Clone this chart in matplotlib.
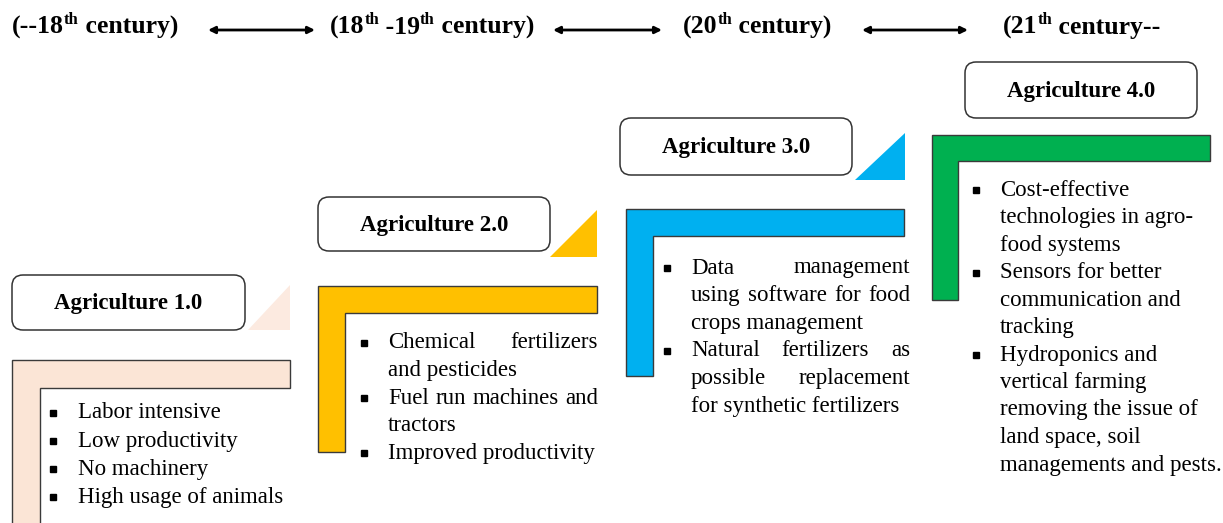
import matplotlib
matplotlib.use('Agg')
import matplotlib.pyplot as plt
from matplotlib.patches import Polygon, FancyBboxPatch

# stage titles and colours
stages = ['Agriculture 1.0', 'Agriculture 2.0', 'Agriculture 3.0', 'Agriculture 4.0']
colors = ['#FBE5D6', '#FFC000', '#00B0F0', '#00B050']

# era headers as (text, superscript?) runs
eras = [
    [('(--18', 0), ('th', 1), (' century)', 0)],
    [('(18', 0), ('th', 1), (' -19', 0), ('th', 1), (' century)', 0)],
    [('(20', 0), ('th', 1), (' century)', 0)],
    [('(21', 0), ('th', 1), (' century--', 0)],
]

# bullet points, each one split into its printed lines
bullets = [
    [['Labor intensive'], ['Low productivity'], ['No machinery'], ['High usage of animals']],
    [['Chemical fertilizers', 'and pesticides'],
     ['Fuel run machines and', 'tractors'],
     ['Improved productivity']],
    [['Data management', 'using software for food', 'crops management'],
     ['Natural fertilizers as', 'possible replacement', 'for synthetic fertilizers']],
    [['Cost-effective', 'technologies in agro-', 'food systems'],
     ['Sensors for better', 'communication and', 'tracking'],
     ['Hydroponics and', 'vertical farming', 'removing the issue of',
      'land space, soil', 'managements and pests.']],
]
justified = [False, True, True, False]

SERIF = 'Liberation Serif'
BODY = 16.5

fig = plt.figure(figsize=(12.23, 5.23), dpi=100)
ax = fig.add_axes([0, 0, 1, 1])
ax.set_xlim(0, 1223)
ax.set_ylim(523, 0)
ax.axis('off')
renderer = fig.canvas.get_renderer()


def width(t):
    return t.get_window_extent(renderer).width


# header row
era_x = [12, 330, 683, 1003]
for x, runs in zip(era_x, eras):
    for s, sup in runs:
        if sup:
            t = ax.text(x, 24, s, fontsize=12, fontweight='bold', family=SERIF, va='baseline')
        else:
            t = ax.text(x, 34, s, fontsize=18.5, fontweight='bold', family=SERIF, va='baseline')
        x += width(t)

for x0, x1 in [(208, 315), (553, 662), (862, 968)]:
    ax.annotate('', xy=(x1, 30), xytext=(x0, 30),
                arrowprops=dict(arrowstyle='<|-|>', color='black', lw=2, mutation_scale=10,
                                shrinkA=0, shrinkB=0))

# geometry per stage: label box, L-frame, triangle, text block
boxes = [(12, 275, 233, 55), (318, 197, 232, 54), (620, 118, 232, 57), (965, 62, 232, 56)]
frames = [(12, 360, 290, 28, 530), (318, 286, 597, 27, 452),
          (626, 209, 904, 27, 376), (932, 135, 1210, 26, 300)]
tris = [[(248, 330), (290, 330), (290, 285)],
        [(550, 257), (597, 257), (597, 210)],
        [(855, 180), (905, 180), (905, 133)],
        None]
blocks = [(53, 78, None, 413, 28), (364, 388, 598, 343, 27.6),
          (667, 691, 910, 268, 27.6), (976, 1000, None, 190, 27.5)]

for i, name in enumerate(stages):
    bx, by, bw, bh = boxes[i]
    ax.add_patch(FancyBboxPatch((bx, by), bw, bh, boxstyle='round,pad=0,rounding_size=11',
                                fc='white', ec='#333333', lw=1.1))
    ax.text(bx + bw / 2, by + bh / 2 + 1, name, fontsize=16.5, fontweight='bold', family=SERIF,
            ha='center', va='center')

    x0, top, x1, bar, bottom = frames[i]
    pts = [(x0, top), (x1, top), (x1, top + bar), (x0 + bar, top + bar), (x0 + bar, bottom), (x0, bottom)]
    ax.add_patch(Polygon(pts, closed=True, fc=colors[i], ec='#3a3a3a', lw=1))

    if tris[i] is not None:
        tc = '#FCEAE0' if i == 0 else colors[i]
        ax.add_patch(Polygon(tris[i], closed=True, fc=tc, ec='none'))

    bxp, tx, right, y, dy = blocks[i]
    for para in bullets[i]:
        for k, line in enumerate(para):
            if k == 0:
                ax.plot(bxp, y, 's', ms=4.5, color='black')
            last = k == len(para) - 1
            words = line.split(' ')
            if justified[i] and not last and len(words) > 1:
                ts = [ax.text(0, y, w, fontsize=BODY, family=SERIF, va='center') for w in words]
                ws = [width(t) for t in ts]
                gap = (right - tx - sum(ws)) / (len(words) - 1)
                cx = tx
                for t, w in zip(ts, ws):
                    t.set_x(cx)
                    cx += w + gap
            else:
                ax.text(tx, y, line, fontsize=BODY, family=SERIF, va='center')
            y += dy

fig.savefig('out.png', dpi=100)
